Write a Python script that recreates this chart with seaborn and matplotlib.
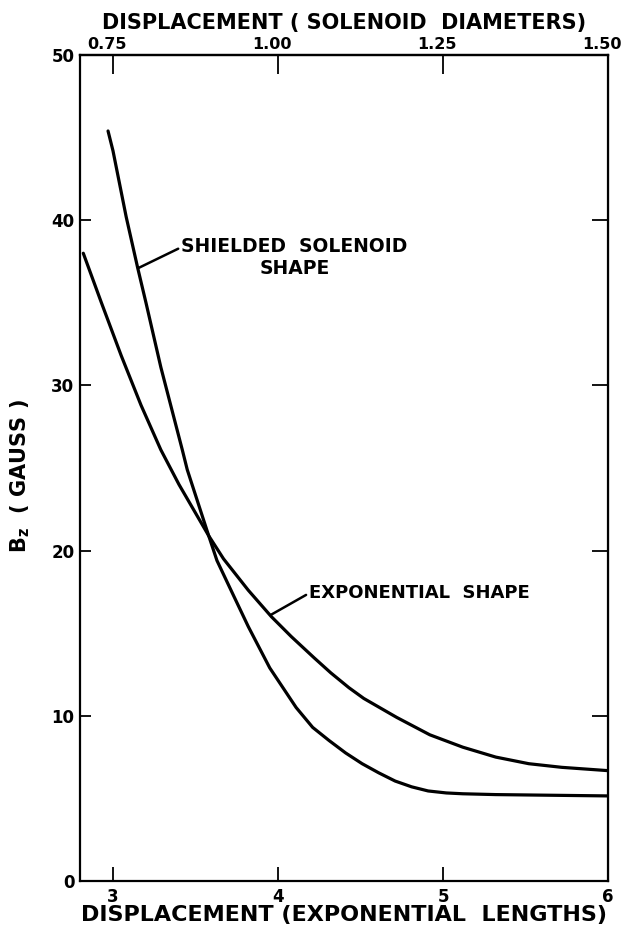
import numpy as np
import pandas as pd
import matplotlib
matplotlib.use('Agg')
import matplotlib.pyplot as plt
from matplotlib.transforms import ScaledTranslation
import seaborn as sns

# Curve readings (displacement in exponential lengths, Bz in gauss)
shielded_x = [2.97, 3.00, 3.08, 3.15, 3.20, 3.29, 3.42, 3.45, 3.58, 3.63, 3.72,
              3.82, 3.95, 4.03, 4.11, 4.21, 4.31, 4.41, 4.51, 4.61, 4.71, 4.81,
              4.91, 5.02, 5.12, 5.32, 6.00]
shielded_y = [45.4, 44.2, 40.2, 37.1, 35.0, 31.1, 26.1, 24.9, 20.9, 19.4, 17.5,
              15.4, 12.9, 11.7, 10.5, 9.3, 8.5, 7.75, 7.1, 6.55, 6.05, 5.7,
              5.45, 5.33, 5.28, 5.23, 5.15]

expo_x = [2.82, 2.93, 3.05, 3.17, 3.29, 3.40, 3.58, 3.67, 3.82, 3.96, 4.08,
          4.22, 4.32, 4.43, 4.52, 4.72, 4.92, 5.12, 5.32, 5.52, 5.72, 6.00]
expo_y = [38.0, 35.0, 31.8, 28.8, 26.1, 24.0, 20.9, 19.5, 17.6, 16.0, 14.8,
          13.5, 12.6, 11.7, 11.05, 9.9, 8.85, 8.1, 7.5, 7.1, 6.88, 6.68]

bottom_ticks = [3, 4, 5, 6]
top_ticks = [0.75, 1.00, 1.25, 1.50]
top_labels = ['0.75', '1.00', '1.25', '1.50']
y_ticks = [0, 10, 20, 30, 40, 50]

sns.set_style('ticks')
plt.rcParams['font.family'] = ['DejaVu Sans']
plt.rcParams['font.weight'] = 'bold'
plt.rcParams['mathtext.default'] = 'bf'
for key in ['text.color', 'axes.labelcolor', 'xtick.color', 'ytick.color',
            'axes.edgecolor']:
    plt.rcParams[key] = 'black'

fig = plt.figure(figsize=(6.22, 9.26), dpi=100)
ax = fig.add_axes([0.1286, 0.0486, 0.8489, 0.892])

shielded = pd.DataFrame({'x': shielded_x, 'y': shielded_y})
expo = pd.DataFrame({'x': expo_x, 'y': expo_y})
sns.lineplot(data=shielded, x='x', y='y', ax=ax, color='black', lw=2.3,
             sort=False, estimator=None)
sns.lineplot(data=expo, x='x', y='y', ax=ax, color='black', lw=2.3,
             sort=False, estimator=None)

ax.set_xlim(2.8, 6.0)
ax.set_ylim(0, 50)
ax.set_xticks(bottom_ticks)
ax.set_yticks(y_ticks)
for s in ax.spines.values():
    s.set_visible(True)
    s.set_linewidth(1.6)
ax.tick_params(axis='x', direction='in', length=10, width=1.3, pad=5,
               labelsize=12)
ax.tick_params(axis='y', direction='in', length=8, width=1.3, pad=4,
               labelsize=12)

# top axis in solenoid diameters
top = ax.secondary_xaxis('top', functions=(lambda v: v / 4, lambda v: v * 4))
top.set_xticks(top_ticks)
top.set_xticklabels(top_labels)
top.tick_params(direction='in', length=13.5, width=1.3, pad=2, labelsize=11.5)
top.spines['top'].set_linewidth(1.6)
shift = ScaledTranslation(-6 / 100, 0, fig.dpi_scale_trans)
for lab in top.get_xticklabels():
    lab.set_transform(lab.get_transform() + shift)
top.set_xlabel('DISPLACEMENT ( SOLENOID  DIAMETERS)', fontsize=15,
               fontweight='bold', labelpad=6)

# right side ticks, no labels
right = ax.secondary_yaxis('right')
right.set_yticks([10, 20, 30, 40])
right.set_yticklabels([])
right.tick_params(direction='in', length=11.5, width=1.3)

ax.set_xlabel('DISPLACEMENT (EXPONENTIAL  LENGTHS)', fontsize=16,
              fontweight='bold', labelpad=-1)
ax.set_ylabel(r'B$_{z}$  ( GAUSS )', fontsize=15, fontweight='bold')
ax.yaxis.set_label_coords(-0.09, 0.49)

ax.annotate('SHIELDED  SOLENOID\nSHAPE', xy=(3.153, 37.1), xytext=(3.415, 37.75),
            ha='left', va='center', multialignment='center', fontsize=13.5,
            fontweight='bold',
            arrowprops=dict(arrowstyle='-', lw=1.8, color='black',
                            shrinkA=0, shrinkB=0, relpos=(0, 0.75)))
ax.annotate('EXPONENTIAL  SHAPE', xy=(3.955, 16.1), xytext=(4.19, 17.43),
            ha='left', va='center', fontsize=13, fontweight='bold',
            arrowprops=dict(arrowstyle='-', lw=1.8, color='black',
                            shrinkA=0, shrinkB=0, relpos=(0, 0.5)))

fig.savefig('out.png', dpi=100)
